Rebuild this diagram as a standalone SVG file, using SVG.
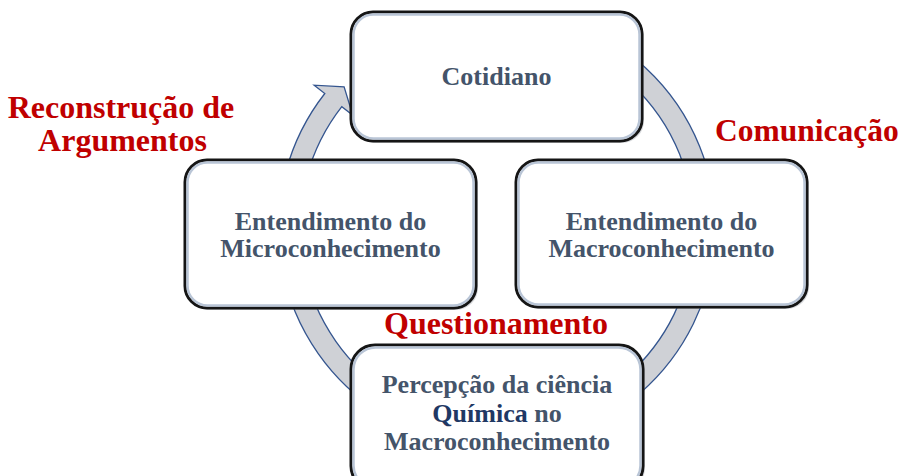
<svg xmlns="http://www.w3.org/2000/svg" width="902" height="476" viewBox="0 0 902 476">
<defs>
<style>
.box{fill:#ffffff;stroke:#151515;stroke-width:3}
.inner{fill:none;stroke:#b9c5d6;stroke-width:2.5}
.shadow{fill:#8a8f99;opacity:0.35}
.t{font-family:"Liberation Serif","Times New Roman",serif;font-weight:bold;font-size:26px;fill:#44546A;text-anchor:middle}
.q{fill:#1F3864}
.lab{font-family:"Liberation Serif","Times New Roman",serif;font-weight:bold;font-size:32px;fill:#C00000}
.ring{fill:#cfd1d6;stroke:#34558f;stroke-width:1.3;stroke-linejoin:miter}
</style>
</defs>
<rect width="902" height="476" fill="#ffffff"/>
<g id="connectors">
<path class="ring" d="M 571.7 22.7 A 218.5 218.5 0 1 1 324.8 93.5 L 314.2 85.2 L 344.1 86.9 L 352.8 115.3 L 341.8 106.7 A 197 197 0 1 0 564.4 42.9 Z"/>
</g>
<g id="node-cotidiano">
<rect class="shadow" x="353" y="14" width="291" height="129" rx="22"/>
<rect class="box" x="351" y="12" width="291" height="129" rx="22"/>
<rect class="inner" x="353.5" y="14.5" width="286" height="124" rx="20"/>
<text class="t" x="496.5" y="85">Cotidiano</text>
</g>
<g id="node-micro">
<rect class="shadow" x="187" y="162" width="291" height="148" rx="22"/>
<rect class="box" x="185" y="160" width="291" height="148" rx="22"/>
<rect class="inner" x="187.5" y="162.5" width="286" height="143" rx="20"/>
<text class="t" x="330.5" y="230">Entendimento do</text>
<text class="t" x="330.5" y="257">Microconhecimento</text>
</g>
<g id="node-macro">
<rect class="shadow" x="518" y="162" width="291" height="147" rx="22"/>
<rect class="box" x="516" y="160" width="291" height="147" rx="22"/>
<rect class="inner" x="518.5" y="162.5" width="286" height="142" rx="20"/>
<text class="t" x="661.5" y="230">Entendimento do</text>
<text class="t" x="661.5" y="257">Macroconhecimento</text>
</g>
<g id="node-percepcao">
<rect class="shadow" x="353" y="347" width="292" height="145" rx="24"/>
<rect class="box" x="351" y="345" width="292" height="145" rx="24"/>
<rect class="inner" x="353.5" y="347.5" width="287" height="140" rx="22"/>
<text class="t" x="497" y="393">Percepção da ciência</text>
<text class="t" x="497" y="421.5"><tspan class="q">Química</tspan> no</text>
<text class="t" x="497" y="450">Macroconhecimento</text>
</g>
<g id="labels">
<text class="lab" x="121" y="118" text-anchor="middle">Reconstrução de</text>
<text class="lab" x="122.5" y="151" text-anchor="middle">Argumentos</text>
<text class="lab" x="715" y="141" style="font-size:31.5px">Comunicação</text>
<text class="lab" x="496" y="334" text-anchor="middle">Questionamento</text>
</g>
</svg>
